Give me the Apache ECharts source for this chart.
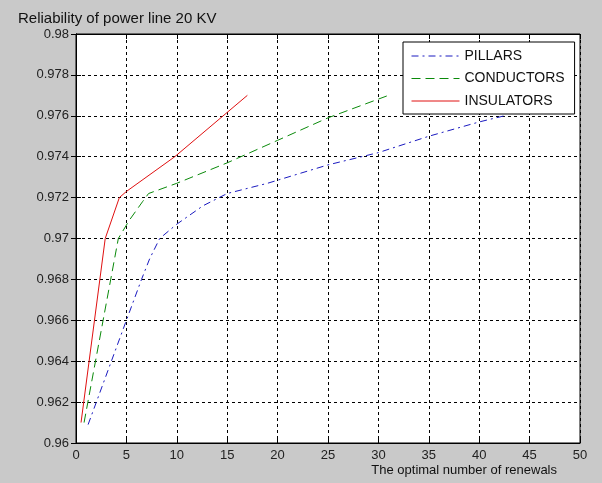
<!DOCTYPE html>
<html>
<head>
<meta charset="utf-8">
<script src="https://cdn.jsdelivr.net/npm/echarts@6/dist/echarts.min.js"></script>
<style>
html,body{margin:0;padding:0;background:#c9c9c9;}
#chart{width:602px;height:483px;}
</style>
</head>
<body>
<div id="chart"></div>
<script>
const seriesNames = ['PILLARS', 'CONDUCTORS', 'INSULATORS'];
const pillarsX = [1.2, 5, 6.5, 7.3, 8.3, 10, 12.6, 15, 19, 25, 30, 35, 40, 42.5];
const pillarsY = [0.9609, 0.966, 0.968, 0.969, 0.970, 0.9707, 0.9716, 0.9722, 0.9727, 0.9736, 0.9742, 0.975, 0.9757, 0.976];
const conductorsX = [0.8, 4.2, 5.3, 6.6, 7.2, 10, 15, 20, 25, 31];
const conductorsY = [0.961, 0.970, 0.9709, 0.9718, 0.9722, 0.9727, 0.9737, 0.9748, 0.9759, 0.977];
const insulatorsX = [0.5, 2.9, 4.3, 5, 9.8, 17];
const insulatorsY = [0.961, 0.970, 0.972, 0.9723, 0.974, 0.977];
const xMin = 0, xMax = 50, xStep = 5;
const yMin = 0.96, yMax = 0.98, yStep = 0.002;
const titleText = 'Reliability of power line 20 KV';
const xName = 'The optimal number of renewals';

function zip(xs, ys){ return xs.map((x,i)=>[x, ys[i]]); }

const chart = echarts.init(document.getElementById('chart'), null, {renderer:'canvas'});
const font = 'Liberation Sans, Arial, sans-serif';
const gridLine = {show:true, lineStyle:{color:'#000', type:[3,3], width:1}};
chart.setOption({
  backgroundColor:'#c9c9c9',
  animation:false,
  textStyle:{fontFamily:font},
  title:{text:titleText, left:13, top:6, textStyle:{fontSize:15, fontWeight:'normal', color:'#111', fontFamily:font}},
  graphic:[{type:'text', right:45, top:464, style:{text:xName, fontSize:13, fill:'#111', fontFamily:font}}],
  grid:{left:76, right:22, top:34, bottom:40, show:true, backgroundColor:'#fff', borderColor:'#000', borderWidth:1},
  legend:{
    orient:'vertical', left:403, top:42, width:160,
    backgroundColor:'#fff', borderColor:'#000', borderWidth:1,
    padding:[7,10,6,8], itemGap:8.5, itemWidth:48, itemHeight:14,
    itemStyle:{opacity:0},
    lineStyle:{width:1},
    textStyle:{fontSize:14, color:'#111', fontFamily:font},
    data:seriesNames
  },
  xAxis:[{
    type:'value', min:xMin, max:xMax, interval:xStep,
    axisLine:{show:true, lineStyle:{color:'#000'}},
    axisTick:{show:true, inside:true, length:5, lineStyle:{color:'#000'}},
    axisLabel:{fontSize:13, color:'#222', margin:6, fontFamily:font},
    splitLine:gridLine
  },{
    type:'value', position:'top', min:xMin, max:xMax, interval:xStep,
    axisLine:{show:true, lineStyle:{color:'#000'}},
    axisTick:{show:true, inside:true, length:5, lineStyle:{color:'#000'}},
    axisLabel:{show:false}, splitLine:{show:false}
  }],
  yAxis:[{
    type:'value', min:yMin, max:yMax, interval:yStep,
    axisLine:{show:true, lineStyle:{color:'#000'}},
    axisTick:{show:true, inside:true, length:5, lineStyle:{color:'#000'}},
    axisLabel:{fontSize:13, color:'#222', margin:7, fontFamily:font},
    splitLine:gridLine
  },{
    type:'value', position:'right', min:yMin, max:yMax, interval:yStep,
    axisLine:{show:true, lineStyle:{color:'#000'}},
    axisTick:{show:true, inside:true, length:5, lineStyle:{color:'#000'}},
    axisLabel:{show:false}, splitLine:{show:false}
  }],
  series:[
    {name:seriesNames[0], type:'line', symbol:'none', data:zip(pillarsX, pillarsY),
     itemStyle:{color:'#1a1ac0'}, lineStyle:{color:'#1a1ac0', width:1, type:[7,4,2,4]}},
    {name:seriesNames[1], type:'line', symbol:'none', data:zip(conductorsX, conductorsY),
     itemStyle:{color:'#0a8a0a'}, lineStyle:{color:'#0a8a0a', width:1, type:[9,5]}},
    {name:seriesNames[2], type:'line', symbol:'none', data:zip(insulatorsX, insulatorsY),
     itemStyle:{color:'#e01010'}, lineStyle:{color:'#e01010', width:1, type:'solid'}}
  ]
});
</script>
</body>
</html>
